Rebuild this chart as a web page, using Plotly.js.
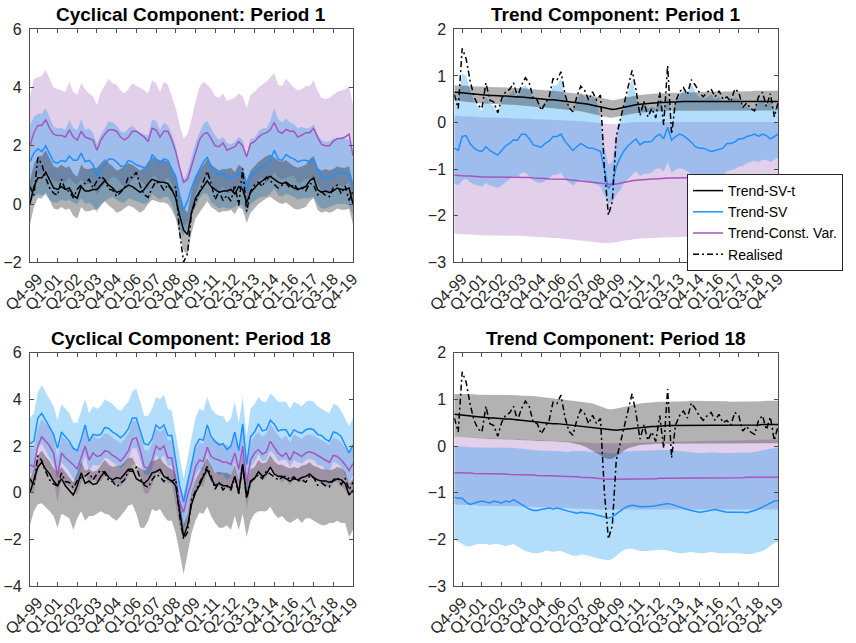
<!DOCTYPE html>
<html>
<head>
<meta charset="utf-8">
<script src="https://cdn.plot.ly/plotly-3.0.1.min.js"></script>
<style>
  html, body { margin: 0; padding: 0; background: #ffffff; }
  #chart { width: 856px; height: 643px; }
</style>
</head>
<body>
<div id="chart"></div>
<script>
// ---------------------------------------------------------------------------
// Quarterly sample: Q2-1999 .. Q4-2019 (83 quarters)
// ---------------------------------------------------------------------------
const firstQuarter = { q: 2, year: 1999 };
const tickLabels = ['Q4-99','Q1-01','Q2-02','Q3-03','Q4-04','Q1-06','Q2-07','Q3-08','Q4-09',
                    'Q1-11','Q2-12','Q3-13','Q4-14','Q1-16','Q2-17','Q3-18','Q4-19'];
const seriesNames = ['Trend-SV-t', 'Trend-SV', 'Trend-Const. Var.', 'Realised'];

// Realised series (shared by all panels)
const realised = [0.60,0.30,1.59,1.37,0.90,0.55,0.37,0.30,0.85,0.48,
  0.44,0.21,0.51,0.66,0.71,0.85,0.55,0.80,0.96,0.84,
  0.51,0.48,0.26,0.41,0.55,0.94,0.91,1.09,0.62,0.32,
  0.23,0.55,0.78,0.69,0.48,0.66,0.48,0.59,-1.00,-1.99,
  -1.70,-0.30,0.05,0.38,0.75,1.12,0.70,0.15,0.45,0.12,
  0.30,0.10,0.65,-0.05,1.22,-0.25,0.45,0.65,0.75,0.60,
  0.92,0.80,0.65,0.55,0.65,0.72,0.55,0.68,0.50,0.55,
  0.45,0.72,0.65,0.32,0.42,0.30,0.25,0.55,0.65,0.35,
  0.62,0.12,0.45];

// ---------------- Cyclical component, period 1 ----------------
const cyc1SvtMed = [0.00,0.60,0.90,0.90,1.10,0.80,0.55,0.50,0.60,0.50,
  0.55,0.30,0.20,0.60,0.45,0.45,0.50,0.50,0.65,0.80,
  0.65,0.55,0.40,0.45,0.55,0.65,0.60,0.50,0.40,0.50,
  0.70,0.85,0.80,0.75,0.75,0.70,0.50,0.20,-0.40,-0.90,
  -1.05,-0.30,0.20,0.40,0.60,0.80,0.60,0.50,0.40,0.45,
  0.45,0.50,0.35,0.60,0.50,0.05,0.40,0.55,0.70,0.80,
  0.90,0.95,0.85,0.75,0.70,0.75,0.65,0.55,0.50,0.55,
  0.60,0.80,0.90,0.50,0.40,0.45,0.40,0.45,0.55,0.50,
  0.50,0.55,0.00];
const cyc1SvtHi = [0.80,1.35,1.65,1.65,1.85,1.55,1.30,1.25,1.35,1.25,
  1.30,1.05,0.95,1.35,1.20,1.20,1.25,1.25,1.40,1.55,
  1.40,1.30,1.15,1.20,1.30,1.40,1.35,1.25,1.15,1.25,
  1.45,1.60,1.55,1.50,1.50,1.45,1.25,0.95,0.35,-0.15,
  -0.30,0.45,0.95,1.15,1.35,1.55,1.35,1.25,1.15,1.20,
  1.20,1.25,1.10,1.35,1.25,0.80,1.15,1.30,1.45,1.55,
  1.65,1.70,1.60,1.50,1.45,1.50,1.40,1.30,1.25,1.30,
  1.35,1.55,1.65,1.25,1.15,1.20,1.15,1.20,1.30,1.25,
  1.25,1.30,0.75];
const cyc1SvtLo = [-0.70,-0.10,0.20,0.20,0.40,0.10,-0.15,-0.20,-0.10,-0.20,
  -0.15,-0.40,-0.50,-0.10,-0.25,-0.25,-0.20,-0.20,-0.05,0.10,
  -0.05,-0.15,-0.30,-0.25,-0.15,-0.05,-0.10,-0.20,-0.30,-0.20,
  0.00,0.15,0.10,0.05,0.05,0.00,-0.20,-0.50,-1.10,-1.60,
  -1.75,-1.00,-0.50,-0.30,-0.10,0.10,-0.10,-0.20,-0.30,-0.25,
  -0.25,-0.20,-0.35,-0.10,-0.20,-0.65,-0.30,-0.15,0.00,0.10,
  0.20,0.25,0.15,0.05,0.00,0.05,-0.05,-0.15,-0.20,-0.15,
  -0.10,0.10,0.20,-0.20,-0.30,-0.25,-0.30,-0.25,-0.15,-0.20,
  -0.20,-0.15,-0.70];
const cyc1SvMed = [1.45,1.75,1.90,1.80,2.00,1.70,1.45,1.40,1.50,1.45,
  1.65,1.50,1.50,1.75,1.45,1.50,1.35,0.95,1.20,1.35,
  1.55,1.55,1.45,1.30,1.30,1.50,1.45,1.35,1.30,1.25,
  1.25,1.70,1.55,1.40,1.55,1.50,1.20,0.95,0.30,-0.20,
  0.10,0.55,0.90,1.20,1.45,1.60,1.30,1.10,1.00,1.05,
  0.90,0.90,0.95,1.05,0.95,0.50,1.00,1.05,1.20,1.30,
  1.35,1.50,1.85,1.55,1.50,1.70,1.60,1.55,1.45,1.50,
  1.50,1.45,1.55,1.20,0.95,0.90,0.90,1.00,1.05,1.10,
  1.05,1.00,0.65];
const cyc1SvHi = [2.70,3.00,3.10,3.10,3.30,2.95,2.65,2.60,2.60,2.55,
  2.90,2.60,2.55,2.90,2.55,2.60,2.45,2.05,2.40,2.60,
  2.85,2.80,2.70,2.50,2.45,2.60,2.70,2.55,2.45,2.40,
  2.35,2.90,2.85,2.55,2.80,2.70,2.40,2.00,1.30,0.85,
  1.10,1.60,2.10,2.45,2.75,2.85,2.60,2.35,2.20,2.30,
  2.10,2.05,2.15,2.30,2.20,1.65,2.25,2.25,2.50,2.60,
  2.60,2.85,3.30,2.90,2.80,2.95,2.80,2.75,2.60,2.65,
  2.60,2.60,2.75,2.40,2.20,2.15,2.15,2.25,2.25,2.30,
  2.25,2.20,1.60];
const cyc1SvLo = [0.05,0.25,0.35,0.30,0.30,0.15,0.05,0.05,0.15,0.10,
  0.15,0.05,0.00,0.20,0.00,0.05,-0.05,-0.30,0.00,0.10,
  0.20,0.25,0.15,0.05,0.05,0.20,0.15,0.10,0.05,0.00,
  0.05,0.35,0.25,0.15,0.25,0.25,0.00,-0.40,-0.90,-1.10,
  -0.85,-0.40,-0.10,0.20,0.35,0.35,0.05,-0.05,-0.15,-0.10,
  -0.15,-0.15,-0.10,0.00,-0.05,-0.35,0.00,0.10,0.20,0.25,
  0.25,0.35,0.55,0.30,0.25,0.35,0.30,0.25,0.15,0.20,
  0.20,0.20,0.25,0.00,-0.15,-0.15,-0.10,-0.05,0.00,0.00,
  0.00,-0.05,-0.35];
const cyc1CvMed = [2.00,2.45,2.70,2.70,2.90,2.60,2.40,2.35,2.35,2.30,
  2.55,2.30,2.20,2.50,2.30,2.25,2.20,1.85,2.20,2.40,
  2.55,2.55,2.50,2.30,2.20,2.30,2.50,2.50,2.40,2.30,
  2.15,2.60,2.55,2.30,2.50,2.50,2.20,1.80,1.25,0.75,
  0.85,1.30,1.80,2.20,2.40,2.45,2.25,2.00,1.97,2.10,
  1.85,1.90,1.97,2.14,2.00,1.62,2.08,2.14,2.30,2.40,
  2.45,2.55,2.80,2.50,2.43,2.56,2.50,2.50,2.30,2.37,
  2.45,2.45,2.60,2.30,2.05,2.00,2.00,2.15,2.25,2.25,
  2.30,2.40,1.65];
const cyc1CvHi = [3.70,4.30,4.35,4.40,4.60,4.30,4.00,3.95,3.90,3.85,
  4.20,3.85,3.75,4.15,3.95,3.80,3.70,3.40,3.85,4.10,
  4.30,4.15,4.10,3.90,3.80,3.95,4.15,4.05,4.00,3.90,
  3.80,4.25,4.15,3.85,4.20,4.10,3.70,3.30,2.70,2.25,
  2.40,2.90,3.50,4.00,4.20,4.10,3.95,3.70,3.65,3.80,
  3.55,3.60,3.65,3.80,3.70,3.30,3.75,3.85,4.00,4.10,
  4.20,4.35,4.50,4.10,4.05,4.30,4.15,4.00,3.90,3.95,
  4.05,4.05,4.25,3.90,3.65,3.60,3.65,3.75,3.85,3.90,
  3.95,4.05,3.40];
const cyc1CvLo = [0.40,0.85,1.05,1.00,1.20,0.90,0.80,0.75,0.80,0.75,
  0.90,0.75,0.65,0.85,0.65,0.70,0.70,0.30,0.55,0.70,
  0.80,0.95,0.90,0.70,0.60,0.65,0.85,0.95,0.80,0.70,
  0.50,0.95,0.95,0.75,0.80,0.90,0.70,0.30,-0.20,-0.75,
  -0.65,-0.20,0.30,0.70,0.90,0.95,0.75,0.50,0.47,0.60,
  0.35,0.40,0.47,0.64,0.50,0.12,0.58,0.64,0.80,0.90,
  0.70,0.85,1.10,0.90,0.85,0.90,0.95,1.00,0.70,0.75,
  0.85,0.85,0.95,0.70,0.45,0.40,0.35,0.55,0.65,0.60,
  0.65,0.75,0.00];

// ---------------- Trend component, period 1 ----------------
const tr1SvtMed = [0.65,0.65,0.64,0.63,0.62,0.61,0.60,0.59,0.59,0.58,
  0.58,0.57,0.57,0.57,0.56,0.56,0.55,0.55,0.54,0.53,
  0.52,0.51,0.50,0.50,0.49,0.49,0.48,0.47,0.46,0.45,
  0.44,0.43,0.42,0.41,0.39,0.37,0.35,0.33,0.31,0.29,
  0.28,0.29,0.31,0.33,0.35,0.37,0.38,0.39,0.40,0.40,
  0.41,0.42,0.43,0.43,0.44,0.44,0.44,0.45,0.45,0.45,
  0.45,0.45,0.45,0.45,0.45,0.45,0.45,0.45,0.45,0.45,
  0.45,0.45,0.45,0.45,0.45,0.45,0.45,0.45,0.45,0.45,
  0.45,0.45,0.45];
const tr1SvtHi = [0.80,0.80,0.79,0.79,0.78,0.78,0.77,0.77,0.77,0.76,
  0.76,0.76,0.75,0.75,0.75,0.74,0.74,0.73,0.73,0.72,
  0.71,0.70,0.70,0.69,0.69,0.68,0.67,0.67,0.66,0.65,
  0.64,0.63,0.62,0.61,0.59,0.57,0.55,0.53,0.51,0.49,
  0.48,0.49,0.51,0.53,0.55,0.57,0.58,0.59,0.60,0.60,
  0.61,0.62,0.62,0.63,0.63,0.64,0.64,0.64,0.65,0.65,
  0.65,0.65,0.65,0.66,0.66,0.66,0.66,0.66,0.66,0.67,
  0.67,0.67,0.67,0.67,0.67,0.67,0.68,0.68,0.68,0.68,
  0.68,0.68,0.68];
const tr1SvtLo = [0.47,0.47,0.46,0.45,0.44,0.43,0.42,0.41,0.41,0.40,
  0.40,0.39,0.39,0.39,0.38,0.38,0.37,0.37,0.36,0.35,
  0.34,0.33,0.32,0.32,0.31,0.31,0.30,0.29,0.28,0.27,
  0.26,0.25,0.24,0.23,0.21,0.19,0.17,0.15,0.13,0.11,
  0.10,0.11,0.13,0.15,0.17,0.19,0.20,0.21,0.22,0.22,
  0.23,0.24,0.24,0.25,0.25,0.25,0.25,0.26,0.26,0.26,
  0.26,0.26,0.26,0.26,0.26,0.26,0.26,0.26,0.26,0.26,
  0.26,0.26,0.26,0.26,0.26,0.26,0.26,0.26,0.26,0.26,
  0.26,0.26,0.26];
const tr1SvMed = [-0.55,-0.60,-0.30,-0.28,-0.45,-0.55,-0.60,-0.62,-0.52,-0.60,
  -0.65,-0.70,-0.60,-0.50,-0.45,-0.37,-0.38,-0.25,-0.25,-0.35,
  -0.48,-0.50,-0.53,-0.45,-0.40,-0.30,-0.30,-0.25,-0.40,-0.50,
  -0.60,-0.52,-0.45,-0.50,-0.55,-0.55,-0.58,-0.62,-1.00,-1.42,
  -1.30,-0.95,-0.75,-0.60,-0.50,-0.42,-0.35,-0.48,-0.42,-0.42,
  -0.40,-0.30,-0.25,-0.35,-0.10,-0.38,-0.30,-0.25,-0.28,-0.35,
  -0.42,-0.52,-0.55,-0.55,-0.58,-0.62,-0.60,-0.58,-0.55,-0.45,
  -0.45,-0.42,-0.35,-0.35,-0.30,-0.28,-0.25,-0.30,-0.25,-0.28,
  -0.35,-0.30,-0.25];
const tr1SvHi = [0.60,0.50,1.05,1.00,0.70,0.45,0.35,0.25,0.55,0.40,
  0.35,0.20,0.45,0.55,0.60,0.70,0.50,0.75,0.80,0.70,
  0.50,0.45,0.35,0.45,0.50,0.80,0.80,0.95,0.55,0.35,
  0.25,0.45,0.65,0.55,0.45,0.55,0.45,0.10,-0.50,-0.90,
  -0.85,-0.30,0.05,0.35,0.65,0.95,0.55,0.30,0.45,0.30,
  0.35,0.30,0.50,0.25,0.55,0.20,0.45,0.55,0.70,0.60,
  0.85,0.65,0.55,0.50,0.55,0.60,0.50,0.55,0.45,0.45,
  0.45,0.55,0.50,0.30,0.35,0.30,0.30,0.45,0.50,0.35,
  0.45,0.25,0.40];
const tr1SvLo = [-1.30,-1.35,-1.25,-1.20,-1.28,-1.33,-1.35,-1.38,-1.30,-1.35,
  -1.38,-1.40,-1.35,-1.28,-1.22,-1.15,-1.18,-1.08,-1.08,-1.15,
  -1.25,-1.28,-1.30,-1.25,-1.20,-1.12,-1.12,-1.08,-1.20,-1.28,
  -1.35,-1.28,-1.22,-1.25,-1.30,-1.30,-1.33,-1.38,-1.55,-1.75,
  -1.70,-1.55,-1.45,-1.30,-1.20,-1.12,-1.05,-1.15,-1.10,-1.10,
  -1.08,-1.00,-0.98,-1.05,-0.85,-1.08,-1.02,-0.98,-1.00,-1.05,
  -1.10,-1.18,-1.20,-1.20,-1.22,-1.25,-1.22,-1.20,-1.15,-1.05,
  -1.02,-1.00,-0.95,-0.93,-0.88,-0.85,-0.82,-0.85,-0.80,-0.80,
  -0.85,-0.80,-0.75];
const tr1CvMed = [-1.13,-1.14,-1.14,-1.15,-1.15,-1.16,-1.16,-1.17,-1.17,-1.17,
  -1.17,-1.17,-1.17,-1.17,-1.17,-1.17,-1.17,-1.18,-1.18,-1.18,
  -1.19,-1.19,-1.20,-1.20,-1.21,-1.21,-1.21,-1.22,-1.22,-1.23,
  -1.24,-1.24,-1.25,-1.26,-1.27,-1.28,-1.29,-1.31,-1.32,-1.33,
  -1.33,-1.32,-1.30,-1.28,-1.26,-1.25,-1.24,-1.23,-1.22,-1.22,
  -1.21,-1.21,-1.20,-1.20,-1.19,-1.19,-1.19,-1.19,-1.18,-1.18,
  -1.18,-1.18,-1.18,-1.17,-1.17,-1.17,-1.17,-1.16,-1.16,-1.16,
  -1.16,-1.15,-1.15,-1.15,-1.15,-1.14,-1.14,-1.14,-1.14,-1.13,
  -1.13,-1.13,-1.13];
const tr1CvHi = [0.15,0.14,0.14,0.13,0.13,0.12,0.12,0.11,0.11,0.11,
  0.10,0.10,0.10,0.10,0.09,0.09,0.09,0.08,0.08,0.08,
  0.07,0.07,0.07,0.06,0.06,0.06,0.05,0.05,0.05,0.04,
  0.04,0.03,0.03,0.02,0.01,0.00,-0.01,-0.02,-0.03,-0.04,
  -0.04,-0.03,-0.02,-0.01,0.00,0.00,0.01,0.01,0.01,0.01,
  0.01,0.01,0.01,0.01,0.01,0.01,0.01,0.01,0.01,0.01,
  0.01,0.01,0.01,0.01,0.01,0.01,0.01,0.01,0.01,0.01,
  0.01,0.01,0.01,0.01,0.01,0.01,0.01,0.01,0.01,0.01,
  0.01,0.01,0.01];
const tr1CvLo = [-2.38,-2.39,-2.40,-2.40,-2.41,-2.41,-2.42,-2.42,-2.42,-2.42,
  -2.42,-2.42,-2.42,-2.42,-2.42,-2.43,-2.43,-2.43,-2.44,-2.45,
  -2.45,-2.46,-2.46,-2.47,-2.47,-2.48,-2.48,-2.49,-2.50,-2.51,
  -2.52,-2.52,-2.53,-2.54,-2.55,-2.56,-2.57,-2.58,-2.59,-2.59,
  -2.58,-2.57,-2.55,-2.53,-2.52,-2.51,-2.50,-2.49,-2.49,-2.48,
  -2.48,-2.48,-2.47,-2.47,-2.47,-2.46,-2.46,-2.46,-2.45,-2.45,
  -2.45,-2.45,-2.45,-2.44,-2.44,-2.44,-2.44,-2.43,-2.43,-2.43,
  -2.43,-2.42,-2.42,-2.42,-2.42,-2.41,-2.41,-2.41,-2.40,-2.40,
  -2.40,-2.40,-2.40];

// ---------------- Cyclical component, period 18 ----------------
const cyc18SvtMed = [0.00,0.50,1.10,1.30,1.00,0.80,0.50,0.30,0.60,0.30,
  0.10,-0.10,0.30,0.85,0.40,0.50,0.35,0.40,0.70,0.90,
  0.65,0.55,0.65,0.60,0.80,1.00,1.00,0.60,0.50,0.40,
  0.55,0.85,0.90,1.00,0.70,0.60,0.50,0.30,-0.80,-1.90,
  -1.40,-0.50,0.00,0.30,0.70,1.00,0.60,0.30,0.40,0.30,
  0.30,0.20,0.70,0.00,1.20,-0.20,0.50,0.60,0.90,0.70,
  0.80,1.10,0.80,0.70,0.70,0.60,0.50,0.60,0.55,0.65,
  0.70,0.80,0.65,0.55,0.50,0.50,0.45,0.50,0.60,0.55,
  0.40,-0.10,0.10];
const cyc18SvtHi = [0.60,1.00,1.60,1.80,1.55,1.35,1.05,0.85,1.10,0.85,
  0.65,0.45,0.85,1.35,0.95,1.00,0.90,0.95,1.20,1.40,
  1.20,1.10,1.15,1.15,1.30,1.50,1.50,1.15,1.05,0.95,
  1.05,1.35,1.40,1.50,1.25,1.10,1.00,0.80,-0.20,-1.35,
  -0.90,0.00,0.55,0.85,1.20,1.50,1.15,0.85,0.90,0.85,
  0.85,0.75,1.20,0.55,1.70,0.35,1.00,1.10,1.40,1.25,
  1.30,1.60,1.35,1.20,1.20,1.10,1.05,1.10,1.05,1.15,
  1.20,1.30,1.15,1.10,1.00,1.00,0.95,1.00,1.10,1.05,
  0.90,0.40,0.60];
const cyc18SvtLo = [-1.40,-0.80,-0.50,-0.45,-0.60,-0.80,-1.00,-1.50,-0.90,-1.00,
  -1.10,-1.60,-1.10,-0.80,-1.20,-1.00,-1.00,-0.90,-0.80,-0.90,
  -0.95,-1.10,-1.20,-1.00,-0.80,-0.55,-0.50,-0.90,-1.50,-1.50,
  -1.20,-0.70,-0.80,-0.70,-1.00,-1.20,-1.20,-1.75,-2.60,-3.50,
  -2.60,-1.75,-1.20,-0.85,-0.90,-0.60,-1.00,-1.30,-1.50,-1.50,
  -1.40,-1.60,-1.00,-1.60,-0.90,-1.90,-1.20,-0.90,-0.80,-0.80,
  -0.80,-0.60,-0.90,-1.10,-1.00,-1.20,-1.30,-1.20,-1.10,-1.30,
  -1.10,-1.10,-1.20,-1.30,-1.40,-1.40,-1.30,-1.30,-1.20,-1.30,
  -1.30,-1.90,-1.60];
const cyc18SvMed = [2.10,2.20,3.20,3.40,3.10,2.80,2.50,1.90,2.60,2.40,
  2.20,1.90,1.80,2.30,2.90,2.20,2.50,2.45,2.50,2.80,
  2.75,2.60,2.50,2.35,2.50,2.75,3.20,3.20,2.70,2.10,
  2.05,2.30,2.90,2.75,2.90,2.45,2.45,1.40,0.30,-0.40,
  0.40,1.20,2.00,2.30,2.25,2.90,2.40,2.20,2.05,2.10,
  1.85,2.00,2.60,1.80,2.95,1.20,2.40,2.60,2.95,2.65,
  2.70,3.10,2.95,2.65,2.70,2.70,2.40,2.70,2.60,2.55,
  2.70,2.75,2.70,2.50,2.45,2.30,2.20,2.60,2.55,2.40,
  2.05,1.70,2.05];
const cyc18SvHi = [3.20,3.40,4.30,4.60,4.30,4.00,3.70,3.10,3.80,3.60,
  3.40,3.00,3.00,3.50,4.00,3.40,3.70,3.60,3.70,4.00,
  3.90,3.80,3.60,3.50,3.70,3.90,4.35,4.45,3.90,3.30,
  3.30,3.60,4.10,4.00,4.20,3.60,3.50,2.50,1.50,0.60,
  1.50,2.40,3.20,3.60,3.50,4.10,3.60,3.40,3.30,3.30,
  3.00,3.20,3.90,3.00,4.10,2.40,3.60,3.80,4.10,3.90,
  3.90,4.25,4.10,3.90,3.90,3.90,3.60,3.90,3.80,3.70,
  3.90,3.95,3.90,3.70,3.60,3.50,3.40,3.80,3.75,3.50,
  3.20,2.85,3.20];
const cyc18SvLo = [0.80,0.90,1.90,2.10,1.80,1.50,1.20,0.60,1.30,1.10,
  0.90,0.60,0.50,1.00,1.60,0.90,1.20,1.15,1.20,1.50,
  1.45,1.30,1.20,1.05,1.20,1.45,1.90,1.90,1.40,0.80,
  0.75,1.00,1.60,1.45,1.60,1.15,1.15,0.10,-1.00,-1.70,
  -0.90,-0.10,0.70,1.00,0.95,1.60,1.10,0.90,0.75,0.80,
  0.55,0.70,1.30,0.50,1.65,-0.10,1.10,1.30,1.65,1.35,
  1.40,1.80,1.65,1.35,1.40,1.40,1.10,1.40,1.30,1.25,
  1.40,1.45,1.40,1.20,1.15,1.00,0.90,1.30,1.25,1.10,
  0.75,0.40,0.75];
const cyc18CvMed = [1.20,1.10,2.00,2.40,2.20,2.00,1.70,0.70,1.70,1.50,
  1.35,1.20,1.00,1.50,2.00,1.40,1.70,1.55,1.60,1.80,
  1.75,1.60,1.50,1.35,1.55,1.80,2.30,2.35,1.80,1.10,
  1.05,1.40,2.00,1.85,2.00,1.50,1.50,0.50,-0.40,-0.85,
  -0.10,0.40,1.10,1.40,1.35,1.95,1.55,1.45,1.40,1.30,
  1.30,1.20,1.70,1.00,2.00,0.40,1.40,1.70,1.85,1.65,
  1.75,2.20,1.95,1.70,1.55,1.70,1.40,1.75,1.65,1.55,
  1.70,1.75,1.70,1.60,1.50,1.40,1.30,1.60,1.55,1.40,
  1.20,0.95,1.25];
const cyc18CvHi = [1.95,1.85,2.75,3.15,2.95,2.75,2.45,1.45,2.45,2.25,
  2.10,1.95,1.75,2.25,2.75,2.15,2.45,2.30,2.35,2.55,
  2.50,2.35,2.25,2.10,2.30,2.55,3.05,3.10,2.55,1.85,
  1.80,2.15,2.75,2.60,2.75,2.25,2.25,1.25,0.35,-0.10,
  0.65,1.15,1.85,2.15,2.10,2.70,2.30,2.20,2.15,2.05,
  2.05,1.95,2.45,1.75,2.75,1.15,2.15,2.45,2.60,2.40,
  2.50,2.95,2.70,2.45,2.30,2.45,2.15,2.50,2.40,2.30,
  2.45,2.50,2.45,2.35,2.25,2.15,2.05,2.35,2.30,2.15,
  1.95,1.70,2.00];
const cyc18CvLo = [0.10,0.00,0.90,1.30,1.10,0.90,0.60,-0.40,0.60,0.40,
  0.25,0.10,-0.10,0.40,0.90,0.30,0.60,0.45,0.50,0.70,
  0.65,0.50,0.40,0.25,0.45,0.70,1.20,1.25,0.70,0.00,
  -0.05,0.30,0.90,0.75,0.90,0.40,0.40,-0.60,-1.50,-1.95,
  -1.20,-0.70,0.00,0.30,0.25,0.85,0.45,0.35,0.30,0.20,
  0.20,0.10,0.60,-0.10,0.90,-0.70,0.30,0.60,0.75,0.55,
  0.65,1.10,0.85,0.60,0.45,0.60,0.30,0.65,0.55,0.45,
  0.60,0.65,0.60,0.50,0.40,0.30,0.20,0.50,0.45,0.30,
  0.10,-0.15,0.15];

// ---------------- Trend component, period 18 ----------------
const tr18SvtMed = [0.68,0.67,0.66,0.65,0.64,0.63,0.62,0.61,0.61,0.60,
  0.60,0.59,0.59,0.58,0.58,0.57,0.56,0.55,0.54,0.53,
  0.52,0.51,0.50,0.49,0.48,0.48,0.48,0.47,0.46,0.45,
  0.44,0.43,0.42,0.41,0.40,0.39,0.38,0.37,0.36,0.35,
  0.34,0.34,0.35,0.36,0.37,0.38,0.39,0.40,0.41,0.41,
  0.42,0.42,0.43,0.43,0.44,0.44,0.44,0.44,0.45,0.45,
  0.45,0.45,0.45,0.45,0.45,0.45,0.45,0.45,0.45,0.45,
  0.45,0.45,0.45,0.45,0.45,0.45,0.45,0.45,0.46,0.46,
  0.46,0.46,0.46];
const tr18SvtHi = [1.12,1.12,1.12,1.11,1.11,1.11,1.10,1.10,1.10,1.10,
  1.10,1.10,1.10,1.10,1.10,1.09,1.09,1.08,1.08,1.07,
  1.07,1.06,1.05,1.04,1.04,1.03,1.02,1.01,1.00,0.99,
  0.98,0.97,0.96,0.95,0.93,0.91,0.88,0.85,0.82,0.79,
  0.79,0.80,0.82,0.84,0.86,0.88,0.90,0.91,0.92,0.93,
  0.94,0.94,0.95,0.95,0.95,0.96,0.96,0.96,0.96,0.96,
  0.97,0.97,0.97,0.97,0.97,0.96,0.96,0.96,0.96,0.96,
  0.95,0.95,0.95,0.95,0.95,0.95,0.96,0.96,0.96,0.97,
  0.97,0.97,0.97];
const tr18SvtLo = [0.20,0.20,0.19,0.19,0.18,0.17,0.17,0.16,0.16,0.15,
  0.15,0.15,0.14,0.14,0.14,0.14,0.13,0.13,0.13,0.12,
  0.12,0.11,0.11,0.10,0.10,0.10,0.09,0.09,0.08,0.08,
  0.06,0.04,0.02,-0.01,-0.05,-0.10,-0.15,-0.20,-0.25,-0.28,
  -0.27,-0.22,-0.16,-0.10,-0.05,-0.02,0.00,0.02,0.03,0.04,
  0.04,0.05,0.05,0.05,0.06,0.06,0.06,0.06,0.06,0.06,
  0.06,0.06,0.06,0.06,0.06,0.06,0.06,0.06,0.06,0.06,
  0.06,0.06,0.06,0.06,0.06,0.06,0.06,0.06,0.06,0.06,
  0.06,0.06,0.06];
const tr18SvMed = [-1.10,-1.12,-1.12,-1.20,-1.25,-1.22,-1.20,-1.18,-1.20,-1.22,
  -1.18,-1.20,-1.22,-1.18,-1.20,-1.15,-1.20,-1.25,-1.30,-1.35,
  -1.38,-1.38,-1.36,-1.35,-1.33,-1.35,-1.33,-1.35,-1.38,-1.40,
  -1.42,-1.44,-1.42,-1.43,-1.43,-1.45,-1.48,-1.50,-1.52,-1.54,
  -1.52,-1.45,-1.38,-1.33,-1.29,-1.27,-1.28,-1.30,-1.30,-1.30,
  -1.29,-1.28,-1.26,-1.24,-1.23,-1.25,-1.28,-1.30,-1.33,-1.36,
  -1.38,-1.40,-1.42,-1.41,-1.39,-1.37,-1.36,-1.38,-1.40,-1.42,
  -1.42,-1.42,-1.41,-1.42,-1.43,-1.41,-1.38,-1.35,-1.31,-1.27,
  -1.22,-1.18,-1.17];
const tr18SvHi = [0.00,0.00,-0.01,-0.02,-0.03,-0.03,-0.03,-0.03,-0.03,-0.04,
  -0.04,-0.04,-0.04,-0.04,-0.04,-0.04,-0.05,-0.06,-0.07,-0.08,
  -0.09,-0.10,-0.10,-0.10,-0.10,-0.10,-0.10,-0.11,-0.12,-0.13,
  -0.10,-0.10,-0.11,-0.11,-0.12,-0.12,-0.13,-0.14,-0.15,-0.16,
  -0.16,-0.15,-0.13,-0.12,-0.11,-0.10,-0.10,-0.10,-0.10,-0.10,
  -0.09,-0.09,-0.08,-0.08,-0.08,-0.09,-0.10,-0.11,-0.12,-0.13,
  -0.14,-0.15,-0.15,-0.15,-0.14,-0.14,-0.14,-0.15,-0.15,-0.15,
  -0.15,-0.15,-0.15,-0.15,-0.15,-0.14,-0.13,-0.11,-0.09,-0.07,
  -0.05,-0.04,-0.03];
const tr18SvLo = [-2.00,-2.05,-2.10,-2.15,-2.15,-2.12,-2.10,-2.10,-2.10,-2.12,
  -2.10,-2.10,-2.12,-2.15,-2.12,-2.10,-2.15,-2.20,-2.25,-2.28,
  -2.30,-2.30,-2.28,-2.25,-2.25,-2.27,-2.25,-2.25,-2.28,-2.32,
  -2.35,-2.35,-2.33,-2.33,-2.35,-2.38,-2.40,-2.42,-2.44,-2.45,
  -2.42,-2.35,-2.28,-2.22,-2.20,-2.20,-2.22,-2.25,-2.25,-2.25,
  -2.25,-2.23,-2.22,-2.22,-2.24,-2.26,-2.28,-2.30,-2.30,-2.28,
  -2.27,-2.28,-2.30,-2.30,-2.28,-2.27,-2.28,-2.30,-2.30,-2.30,
  -2.30,-2.30,-2.30,-2.31,-2.32,-2.32,-2.30,-2.28,-2.25,-2.20,
  -2.15,-2.08,-2.05];
const tr18CvMed = [-0.57,-0.57,-0.58,-0.58,-0.58,-0.59,-0.59,-0.59,-0.59,-0.60,
  -0.60,-0.60,-0.60,-0.60,-0.61,-0.61,-0.61,-0.61,-0.62,-0.62,
  -0.62,-0.63,-0.63,-0.63,-0.64,-0.64,-0.64,-0.65,-0.65,-0.65,
  -0.66,-0.66,-0.67,-0.67,-0.68,-0.68,-0.69,-0.70,-0.70,-0.71,
  -0.71,-0.71,-0.70,-0.70,-0.70,-0.70,-0.70,-0.70,-0.70,-0.70,
  -0.70,-0.70,-0.69,-0.69,-0.69,-0.69,-0.69,-0.69,-0.69,-0.69,
  -0.69,-0.69,-0.69,-0.69,-0.68,-0.68,-0.68,-0.68,-0.68,-0.68,
  -0.68,-0.68,-0.68,-0.68,-0.67,-0.67,-0.67,-0.67,-0.67,-0.67,
  -0.67,-0.67,-0.67];
const tr18CvHi = [0.20,0.20,0.19,0.19,0.18,0.18,0.18,0.17,0.17,0.17,
  0.16,0.16,0.16,0.15,0.15,0.15,0.14,0.14,0.14,0.13,
  0.13,0.13,0.12,0.12,0.12,0.11,0.11,0.10,0.10,0.10,
  0.09,0.09,0.08,0.08,0.07,0.07,0.06,0.06,0.05,0.05,
  0.05,0.05,0.06,0.06,0.06,0.07,0.07,0.07,0.08,0.08,
  0.08,0.08,0.09,0.09,0.09,0.09,0.10,0.10,0.10,0.10,
  0.10,0.10,0.11,0.11,0.11,0.11,0.11,0.12,0.12,0.12,
  0.12,0.12,0.12,0.12,0.13,0.13,0.13,0.13,0.13,0.13,
  0.14,0.14,0.14];
const tr18CvLo = [-1.25,-1.26,-1.26,-1.27,-1.27,-1.27,-1.28,-1.28,-1.28,-1.28,
  -1.28,-1.28,-1.28,-1.29,-1.29,-1.29,-1.29,-1.30,-1.30,-1.30,
  -1.30,-1.31,-1.31,-1.31,-1.32,-1.32,-1.32,-1.33,-1.33,-1.33,
  -1.34,-1.34,-1.34,-1.35,-1.35,-1.35,-1.36,-1.36,-1.37,-1.37,
  -1.37,-1.37,-1.37,-1.37,-1.36,-1.36,-1.36,-1.36,-1.36,-1.36,
  -1.36,-1.36,-1.36,-1.36,-1.36,-1.36,-1.36,-1.36,-1.36,-1.36,
  -1.36,-1.36,-1.36,-1.36,-1.36,-1.36,-1.36,-1.36,-1.36,-1.36,
  -1.36,-1.36,-1.36,-1.36,-1.36,-1.36,-1.36,-1.36,-1.36,-1.36,
  -1.36,-1.36,-1.36];

// ---------------------------------------------------------------------------
// Quarter labels for the x categories
// ---------------------------------------------------------------------------
function buildQuarters(n) {
  const out = [];
  let q = firstQuarter.q, y = firstQuarter.year;
  for (let i = 0; i < n; i++) {
    out.push('Q' + q + '-' + String(y % 100).padStart(2, '0'));
    q += 1;
    if (q > 4) { q = 1; y += 1; }
  }
  return out;
}
const quarters = buildQuarters(realised.length);

// ---------------------------------------------------------------------------
// Styling
// ---------------------------------------------------------------------------
const colSvt = '#000000';
const colSv = 'rgb(30,144,255)';
const colCv = 'rgb(168,84,190)';
const fillSvt = 'rgba(0,0,0,0.30)';
const fillSv = 'rgba(0,145,245,0.30)';
const fillCv = 'rgba(139,67,171,0.25)';
const FONT = 'Liberation Sans, Arial, Helvetica, sans-serif';

function band(lo, hi, color, xa, ya) {
  return {
    type: 'scatter', mode: 'lines',
    x: quarters.concat(quarters.slice().reverse()),
    y: hi.concat(lo.slice().reverse()),
    fill: 'toself', fillcolor: color,
    line: { width: 0, color: 'rgba(0,0,0,0)' },
    hoverinfo: 'skip', showlegend: false,
    xaxis: xa, yaxis: ya
  };
}
function line(y, name, color, dash, xa, ya, inLegend) {
  return {
    type: 'scatter', mode: 'lines', name: name,
    x: quarters, y: y,
    line: { color: color, width: 1.5, dash: dash },
    showlegend: inLegend, xaxis: xa, yaxis: ya
  };
}

function panel(p, xa, ya, inLegend) {
  return [
    band(p.cvLo, p.cvHi, fillCv, xa, ya),
    band(p.svLo, p.svHi, fillSv, xa, ya),
    band(p.svtLo, p.svtHi, fillSvt, xa, ya),
    line(p.svtMed, seriesNames[0], colSvt, 'solid', xa, ya, inLegend),
    line(p.svMed, seriesNames[1], colSv, 'solid', xa, ya, inLegend),
    line(p.cvMed, seriesNames[2], colCv, 'solid', xa, ya, inLegend),
    line(realised, seriesNames[3], '#000000', '6px,3px,2px,3px', xa, ya, inLegend)
  ];
}

const panels = [
  { svtMed: cyc1SvtMed, svtLo: cyc1SvtLo, svtHi: cyc1SvtHi, svMed: cyc1SvMed, svLo: cyc1SvLo, svHi: cyc1SvHi,
    cvMed: cyc1CvMed, cvLo: cyc1CvLo, cvHi: cyc1CvHi },
  { svtMed: tr1SvtMed, svtLo: tr1SvtLo, svtHi: tr1SvtHi, svMed: tr1SvMed, svLo: tr1SvLo, svHi: tr1SvHi,
    cvMed: tr1CvMed, cvLo: tr1CvLo, cvHi: tr1CvHi },
  { svtMed: cyc18SvtMed, svtLo: cyc18SvtLo, svtHi: cyc18SvtHi, svMed: cyc18SvMed, svLo: cyc18SvLo, svHi: cyc18SvHi,
    cvMed: cyc18CvMed, cvLo: cyc18CvLo, cvHi: cyc18CvHi },
  { svtMed: tr18SvtMed, svtLo: tr18SvtLo, svtHi: tr18SvtHi, svMed: tr18SvMed, svLo: tr18SvLo, svHi: tr18SvHi,
    cvMed: tr18CvMed, cvLo: tr18CvLo, cvHi: tr18CvHi }
];

const data = [].concat(
  panel(panels[0], 'x', 'y', false),
  panel(panels[1], 'x2', 'y2', true),
  panel(panels[2], 'x3', 'y3', false),
  panel(panels[3], 'x4', 'y4', false)
);

const axisLine = '#4d4d4d';
const TICK_SIZE = 16;
function xAxis(domain, anchor) {
  return {
    domain: domain, anchor: anchor, type: 'category',
    range: [0, quarters.length - 1],
    tickmode: 'array', tickvals: tickLabels, ticktext: tickLabels,
    tickangle: -45, ticks: 'inside', ticklen: 4, tickcolor: axisLine,
    showline: true, linecolor: axisLine, linewidth: 1, mirror: 'ticks',
    showgrid: false, zeroline: false,
    tickfont: { family: FONT, size: TICK_SIZE, color: '#262626' }
  };
}
function yAxis(domain, anchor, range, dtick) {
  return {
    domain: domain, anchor: anchor, range: range,
    tickmode: 'linear', tick0: range[0], dtick: dtick,
    ticks: 'inside', ticklen: 4, tickcolor: axisLine,
    showline: true, linecolor: axisLine, linewidth: 1, mirror: 'ticks',
    showgrid: false, zeroline: false, ticklabelstandoff: 4,
    tickfont: { family: FONT, size: TICK_SIZE, color: '#262626' }
  };
}

const leftX = [0.0350, 0.4124], rightX = [0.5307, 0.9092];
const topY = [0.5921, 0.9544], botY = [0.0886, 0.4515];

function title(text, x, y) {
  return {
    text: '<b>' + text + '</b>', xref: 'paper', yref: 'paper',
    x: x, y: y, xanchor: 'center', yanchor: 'middle', showarrow: false,
    font: { family: FONT, size: 19, color: '#000000' }
  };
}

const layout = {
  width: 856, height: 643,
  margin: { l: 0, r: 0, t: 0, b: 0, autoexpand: false },
  paper_bgcolor: '#ffffff', plot_bgcolor: '#ffffff',
  font: { family: FONT, size: 15, color: '#262626' },
  showlegend: true,
  legend: {
    x: 0.8026, y: 0.7294, xanchor: 'left', yanchor: 'top',
    bgcolor: '#ffffff', bordercolor: '#262626', borderwidth: 1,
    font: { family: FONT, size: 14, color: '#000000' },
    traceorder: 'normal', itemwidth: 30, tracegroupgap: 0
  },
  xaxis: xAxis(leftX, 'y'),
  yaxis: yAxis(topY, 'x', [-2, 6], 2),
  xaxis2: xAxis(rightX, 'y2'),
  yaxis2: yAxis(topY, 'x2', [-3, 2], 1),
  xaxis3: xAxis(leftX, 'y3'),
  yaxis3: yAxis(botY, 'x3', [-4, 6], 2),
  xaxis4: xAxis(rightX, 'y4'),
  yaxis4: yAxis(botY, 'x4', [-3, 2], 1),
  annotations: [
    title('Cyclical Component: Period 1', 0.2237, 0.9767),
    title('Trend Component: Period 1', 0.7200, 0.9767),
    title('Cyclical Component: Period 18', 0.2237, 0.4743),
    title('Trend Component: Period 18', 0.7200, 0.4743)
  ]
};

Plotly.newPlot('chart', data, layout, { displayModeBar: false, staticPlot: true });
</script>
</body>
</html>
